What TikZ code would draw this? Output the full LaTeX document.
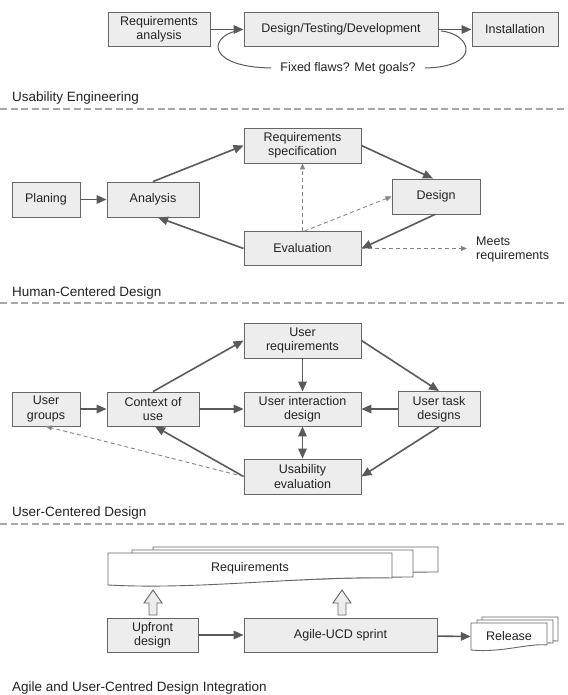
\documentclass[tikz,border=0pt]{standalone}
\usepackage{fontspec}
\setmainfont{Liberation Sans}
\usetikzlibrary{arrows.meta,calc}
\definecolor{boxfill}{HTML}{EDEDED}
\definecolor{boxline}{HTML}{666666}
\definecolor{arr}{HTML}{5A5A5A}
\definecolor{dashc}{HTML}{858585}
\definecolor{sepc}{HTML}{A8A8A8}
\definecolor{txt}{HTML}{222222}
\begin{document}
\begin{tikzpicture}[x=1pt,y=-1pt,
  box/.style={draw=boxline,fill=boxfill,line width=0.9pt,inner sep=1pt,align=center,text=txt,font=\fontsize{12.5}{14.3}\selectfont},
  lbl/.style={text=txt,font=\fontsize{13.5}{16}\selectfont,inner sep=0pt,anchor=west},
  plain/.style={text=txt,font=\fontsize{12.5}{14.3}\selectfont,inner sep=1pt,align=center},
  flow/.style={draw=arr,line width=1.6pt,-{Triangle[length=10pt,width=8.5pt]}},
  dflow/.style={draw=dashc,line width=0.9pt,dash pattern=on 4pt off 3pt,-{Triangle[length=6pt,width=5pt]}},
  twoway/.style={draw=arr,line width=1.6pt,{Triangle[length=10pt,width=8.5pt]}-{Triangle[length=10pt,width=8.5pt]}},
  sepline/.style={draw=sepc,line width=1.3pt,dash pattern=on 7pt off 3.5pt},
  loopline/.style={draw=arr,line width=1pt},
  docshape/.style={draw=boxline,fill=white,line width=0.9pt},
  hollow/.style={draw=boxline,fill=boxfill,line width=0.9pt}]
\path[use as bounding box] (0,0) rectangle (567,695);

% ---------- Section 1 ----------
\node[box,minimum width=102pt,minimum height=34pt] (ra) at (159,29.5) {Requirements\\analysis};
\node[box,minimum width=194pt,minimum height=34pt] (dtd) at (341,29.5) {Design/Testing/Development};
\node[box,minimum width=86pt,minimum height=34pt] (inst) at (515,29.5) {Installation};
\draw[flow] (ra) -- (dtd);
\draw[flow] (dtd) -- (inst);
\node[plain,inner xsep=9pt] (lt) at (348,68) {Fixed flaws? Met goals?};
\coordinate (l1) at (236,31);
\coordinate (r1) at (441,31);
\draw[loopline] (l1) .. controls (208,38) and (208,67) .. (lt.west);
\draw[loopline] (lt.east) .. controls (482,67) and (472,34) .. (r1);
\node[lbl] (t1) at (12,98) {Usability Engineering};
\coordinate (s1a) at (0,109);
\coordinate (s1b) at (567,109);
\draw[sepline] (s1a) -- (s1b);

% ---------- Section 2 ----------
\node[box,minimum width=117pt,minimum height=35pt] (rs) at (302.5,145.5) {Requirements\\specification};
\node[box,minimum width=68pt,minimum height=35pt] (pl) at (46,199.5) {Planing};
\node[box,minimum width=92pt,minimum height=35pt] (an) at (153,199.5) {Analysis};
\node[box,minimum width=88pt,minimum height=35pt] (de) at (436,196.5) {Design};
\node[box,minimum width=117pt,minimum height=34pt] (ev) at (302.5,248.5) {Evaluation};
\node[plain,anchor=west,align=left,inner sep=0pt] (mr) at (476,249.5) {Meets\\requirements};
\coordinate (mrend) at (467,248.5);
\draw[flow] (pl) -- (an);
\draw[flow] (an.north) -- (rs.west);
\draw[flow] (rs.east) -- ($(de.north)+(-3,0)$);
\draw[flow] ($(de.south)+(-1,0)$) -- (ev.east);
\draw[flow] (ev.west) -- ($(an.south)+(5,0)$);
\draw[dflow] (ev.north) -- (rs.south);
\draw[dflow] ($(ev.north)+(2,0)$) -- (de.west);
\draw[dflow] (ev.east) -- (mrend);
\node[lbl] (t2) at (12,293) {Human-Centered Design};
\coordinate (s2a) at (0,303);
\coordinate (s2b) at (567,303);
\draw[sepline] (s2a) -- (s2b);

% ---------- Section 3 ----------
\node[box,minimum width=117pt,minimum height=35pt] (ur) at (302.5,340.5) {User\\requirements};
\node[box,minimum width=68pt,minimum height=34pt] (ug) at (46,409) {User\\groups};
\node[box,minimum width=92pt,minimum height=34pt] (cu) at (153,409) {Context of\\use};
\node[box,minimum width=117pt,minimum height=34pt] (uid) at (302.5,409) {User interaction\\design};
\node[box,minimum width=82pt,minimum height=35pt] (ut) at (439,409) {User task\\designs};
\node[box,minimum width=117pt,minimum height=35pt] (ue) at (302.5,476.5) {Usability\\evaluation};
\draw[flow] (ug) -- (cu);
\draw[flow] (cu.north) -- (ur.west);
\draw[flow] (ur.east) -- (ut.north);
\draw[flow] (ur.south) -- (uid.north);
\draw[flow] (cu) -- (uid);
\draw[flow] (ut) -- (uid);
\draw[twoway] (uid.south) -- (ue.north);
\draw[flow] (ut.south) -- (ue.east);
\draw[flow] (ue.west) -- ($(cu.south)+(2,0)$);
\draw[dflow] (ue.west) -- (ug.south);
\node[lbl] (t3) at (12,513) {User-Centered Design};
\coordinate (s3a) at (0,524);
\coordinate (s3b) at (567,524);
\draw[sepline] (s3a) -- (s3b);

% ---------- Section 4 ----------
\draw[docshape] (153,547) -- (438,547) -- (438,572) .. controls (350,572) and (300,580) .. (153,580) -- cycle;
\draw[docshape] (132,550) -- (413,550) -- (413,577) .. controls (330,577) and (250,584) .. (132,583) -- cycle;
\draw[docshape] (108,553) -- (392,553) -- (392,578) .. controls (300,576) and (200,590) .. (108,585) -- cycle;
\node[plain] (req) at (250,568) {Requirements};
\draw[hollow] (149,615) -- (149,603) -- (144,603) -- (153,590) -- (162,603) -- (157,603) -- (157,615) -- cycle;
\draw[hollow] (338,615) -- (338,603) -- (333,603) -- (342,590) -- (351,603) -- (346,603) -- (346,615) -- cycle;
\node[box,minimum width=91pt,minimum height=34pt] (up) at (152.5,635) {Upfront\\design};
\node[box,minimum width=193pt,minimum height=34pt] (ag) at (340.5,635) {Agile-UCD sprint};
\draw[docshape] (482,617) -- (558,617) -- (558,641) .. controls (540,640) and (515,648) .. (482,645) -- cycle;
\draw[docshape] (477,620) -- (553,620) -- (553,643) .. controls (535,642) and (510,650) .. (477,648) -- cycle;
\draw[docshape] (471,623) -- (547,623) -- (547,645) .. controls (528,643) and (502,653) .. (471,650) -- cycle;
\node[plain,minimum width=76pt,minimum height=27pt,inner sep=0pt] (rel) at (509,636.5) {Release};
\draw[flow] (up) -- (ag);
\draw[flow] (ag) -- (rel.west);
\node[lbl] (t4) at (12,688) {Agile and User-Centred Design Integration};
\end{tikzpicture}
\end{document}
